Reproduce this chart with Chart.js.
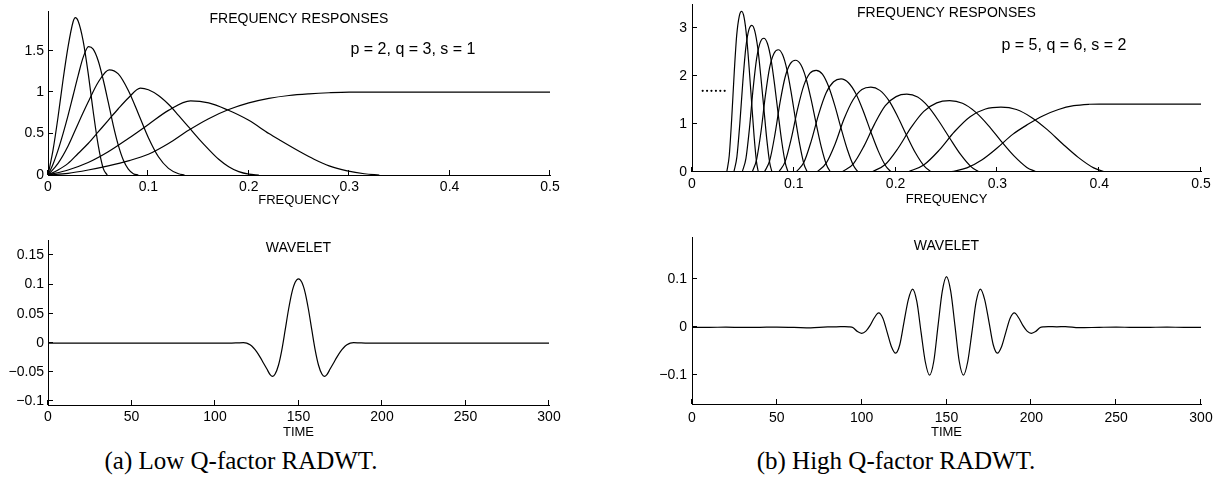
<!DOCTYPE html>
<html><head><meta charset="utf-8">
<script src="https://cdn.jsdelivr.net/npm/chart.js@4.4.1/dist/chart.umd.min.js"></script>
<style>
html,body{margin:0;padding:0;background:#fff;width:1220px;height:481px;overflow:hidden;}
.box{position:absolute;}
.box canvas{display:block;}
.cap{position:absolute;font-family:"Liberation Serif","Times New Roman",serif;font-size:25px;line-height:25px;white-space:nowrap;transform:translateX(-50%);color:#000;}
</style></head><body>
<div class="box" style="left:0px;top:0px;width:575px;height:215px"><canvas id="cA1" width="575" height="215"></canvas></div>
<div class="box" style="left:0px;top:225px;width:575px;height:215px"><canvas id="cA2" width="575" height="215"></canvas></div>
<div class="box" style="left:640px;top:0px;width:580px;height:215px"><canvas id="cB1" width="580" height="215"></canvas></div>
<div class="box" style="left:640px;top:225px;width:580px;height:215px"><canvas id="cB2" width="580" height="215"></canvas></div>
<div class="cap" style="left:241px;top:448px">(a) Low Q-factor RADWT.</div>
<div class="cap" style="left:896px;top:448px">(b) High Q-factor RADWT.</div>
<script>
// ---------- tick values / labels ----------
const freqTicks = [0, 0.1, 0.2, 0.3, 0.4, 0.5];
const freqLabels = ['0', '0.1', '0.2', '0.3', '0.4', '0.5'];
const timeTicks = [0, 50, 100, 150, 200, 250, 300];
const timeLabels = ['0', '50', '100', '150', '200', '250', '300'];
const lowQRespTicks = [0, 0.5, 1, 1.5];
const lowQRespLabels = ['0', '0.5', '1', '1.5'];
const lowQWavTicks = [-0.1, -0.05, 0, 0.05, 0.1, 0.15];
const lowQWavLabels = ['\u22120.1', '\u22120.05', '0', '0.05', '0.1', '0.15'];
const highQRespTicks = [0, 1, 2, 3];
const highQRespLabels = ['0', '1', '2', '3'];
const highQWavTicks = [-0.1, 0, 0.1];
const highQWavLabels = ['\u22120.1', '0', '0.1'];

// ---------- (a) low Q-factor frequency responses (p=2, q=3, s=1) ----------
const lowQ_b1_f = [0, 0.005, 0.01, 0.015, 0.02, 0.025, 0.0272, 0.03, 0.035, 0.04, 0.045, 0.05, 0.055, 0.059];
const lowQ_b1_h = [0, 0.30, 0.70, 1.15, 1.55, 1.85, 1.90, 1.86, 1.62, 1.23, 0.77, 0.36, 0.08, 0];
const lowQ_b2_f = [0, 0.005, 0.01, 0.015, 0.02, 0.025, 0.03, 0.035, 0.0404, 0.045, 0.05, 0.055, 0.06, 0.065, 0.07, 0.075, 0.08, 0.085, 0.09];
const lowQ_b2_h = [0, 0.13, 0.30, 0.50, 0.72, 0.96, 1.20, 1.42, 1.55, 1.52, 1.38, 1.15, 0.88, 0.60, 0.36, 0.18, 0.07, 0.015, 0];
const lowQ_b3_f = [0, 0.01, 0.02, 0.03, 0.04, 0.05, 0.061, 0.07, 0.08, 0.09, 0.10, 0.11, 0.12, 0.13, 0.136];
const lowQ_b3_h = [0, 0.14, 0.35, 0.62, 0.88, 1.12, 1.27, 1.22, 1.02, 0.74, 0.45, 0.22, 0.08, 0.015, 0];
const lowQ_b4_f = [0, 0.01, 0.02, 0.03, 0.04, 0.05, 0.06, 0.07, 0.08, 0.092, 0.10, 0.11, 0.122, 0.13, 0.14, 0.15, 0.16, 0.17, 0.18, 0.19, 0.20, 0.21];
const lowQ_b4_h = [0, 0.06, 0.14, 0.26, 0.38, 0.52, 0.66, 0.80, 0.93, 1.05, 1.03, 0.96, 0.83, 0.72, 0.58, 0.44, 0.31, 0.19, 0.10, 0.04, 0.01, 0];
const lowQ_b5_f = [0, 0.02, 0.04, 0.06, 0.08, 0.10, 0.12, 0.142, 0.16, 0.178, 0.20, 0.22, 0.231, 0.251, 0.265, 0.28, 0.298, 0.315, 0.33];
const lowQ_b5_h = [0, 0.06, 0.15, 0.28, 0.44, 0.61, 0.78, 0.895, 0.87, 0.79, 0.66, 0.50, 0.42, 0.28, 0.19, 0.11, 0.05, 0.015, 0];
const lowQ_hp_f = [0, 0.02, 0.04, 0.06, 0.08, 0.10, 0.12, 0.14, 0.16, 0.18, 0.20, 0.22, 0.24, 0.26, 0.28, 0.30, 0.32, 0.5];
const lowQ_hp_h = [0, 0.02, 0.06, 0.11, 0.17, 0.25, 0.38, 0.54, 0.68, 0.79, 0.87, 0.925, 0.96, 0.98, 0.993, 1.0, 1.0, 1.0];

// ---------- (a) low Q-factor wavelet ----------
const lowQ_wav_t = [0, 50, 100, 110, 114, 117, 119, 121, 123, 125, 127, 129, 131, 133, 134.5, 136, 138, 140, 142, 144, 146, 148, 150, 152, 154, 156, 158, 160, 162, 164, 165.5, 167, 169, 171, 173, 175, 177, 179, 181, 183, 186, 190, 200, 250, 300];
const lowQ_wav_v = [0, 0, 0, 0, 0.0004, 0.0006, 0, -0.003, -0.008, -0.015, -0.024, -0.034, -0.044, -0.054, -0.057, -0.053, -0.038, -0.012, 0.022, 0.057, 0.086, 0.104, 0.110, 0.104, 0.086, 0.057, 0.022, -0.012, -0.038, -0.053, -0.057, -0.054, -0.044, -0.034, -0.024, -0.015, -0.008, -0.003, 0, 0.0006, 0.0004, 0, 0, 0, 0];

// ---------- (b) high Q-factor frequency responses (p=5, q=6, s=2) ----------
const highQ_b1_f = [0.0342, 0.0366, 0.0390, 0.0415, 0.0439, 0.0464, 0.0488, 0.0512, 0.0537, 0.0561, 0.0586, 0.0610, 0.0634, 0.0651];
const highQ_b1_h = [0, 0.34, 1.11, 2.08, 2.85, 3.25, 3.35, 3.22, 2.81, 2.18, 1.44, 0.74, 0.20, 0];
const highQ_b2_f = [0.0412, 0.0441, 0.0470, 0.0500, 0.0529, 0.0559, 0.0588, 0.0617, 0.0647, 0.0676, 0.0706, 0.0735, 0.0764, 0.0785];
const highQ_b2_h = [0, 0.31, 1.01, 1.90, 2.60, 2.97, 3.06, 2.94, 2.57, 1.99, 1.32, 0.67, 0.18, 0];
const highQ_b3_f = [0.0494, 0.0530, 0.0565, 0.0600, 0.0635, 0.0671, 0.0706, 0.0741, 0.0777, 0.0812, 0.0847, 0.0883, 0.0918, 0.0943];
const highQ_b3_h = [0, 0.28, 0.92, 1.73, 2.37, 2.71, 2.79, 2.68, 2.34, 1.81, 1.20, 0.61, 0.17, 0];
const highQ_b4_f = [0.0593, 0.0635, 0.0678, 0.0720, 0.0762, 0.0805, 0.0847, 0.0889, 0.0932, 0.0974, 0.1016, 0.1059, 0.1101, 0.1131];
const highQ_b4_h = [0, 0.26, 0.84, 1.58, 2.17, 2.47, 2.55, 2.45, 2.14, 1.66, 1.10, 0.56, 0.15, 0];
const highQ_b5_f = [0.0712, 0.0763, 0.0814, 0.0864, 0.0915, 0.0966, 0.1017, 0.1068, 0.1119, 0.1170, 0.1220, 0.1271, 0.1322, 0.1358];
const highQ_b5_h = [0, 0.23, 0.77, 1.44, 1.98, 2.26, 2.33, 2.24, 1.96, 1.51, 1.00, 0.51, 0.14, 0];
const highQ_b6_f = [0.0854, 0.0915, 0.0976, 0.1037, 0.1098, 0.1159, 0.1220, 0.1281, 0.1342, 0.1403, 0.1464, 0.1525, 0.1586, 0.1629];
const highQ_b6_h = [0, 0.21, 0.70, 1.31, 1.80, 2.06, 2.12, 2.04, 1.78, 1.38, 0.91, 0.47, 0.13, 0];
const highQ_b7_f = [0.1025, 0.1098, 0.1171, 0.1244, 0.1318, 0.1391, 0.1464, 0.1537, 0.1610, 0.1684, 0.1757, 0.1830, 0.1903, 0.1954];
const highQ_b7_h = [0, 0.19, 0.64, 1.20, 1.65, 1.88, 1.94, 1.86, 1.63, 1.26, 0.83, 0.43, 0.12, 0];
const highQ_b8_f = [0.1230, 0.1318, 0.1406, 0.1493, 0.1581, 0.1669, 0.1757, 0.1845, 0.1933, 0.2021, 0.2108, 0.2196, 0.2284, 0.2346];
const highQ_b8_h = [0, 0.18, 0.58, 1.10, 1.50, 1.72, 1.77, 1.70, 1.49, 1.15, 0.76, 0.39, 0.11, 0];
const highQ_b9_f = [0.1477, 0.1583, 0.1688, 0.1794, 0.1899, 0.2005, 0.2110, 0.2216, 0.2321, 0.2427, 0.2532, 0.2638, 0.2743, 0.2817];
const highQ_b9_h = [0, 0.16, 0.53, 1.00, 1.38, 1.57, 1.62, 1.56, 1.36, 1.05, 0.70, 0.36, 0.10, 0];
const highQ_b10_f = [0.1771, 0.1898, 0.2024, 0.2151, 0.2277, 0.2404, 0.2530, 0.2657, 0.2783, 0.2910, 0.3036, 0.3163, 0.3289, 0.3378];
const highQ_b10_h = [0, 0.15, 0.49, 0.92, 1.26, 1.44, 1.485, 1.43, 1.25, 0.97, 0.64, 0.33, 0.09, 0];
const highQ_b11_f = [0.2125, 0.2276, 0.2428, 0.2580, 0.2732, 0.2883, 0.3035, 0.3187, 0.3339, 0.3490, 0.3642, 0.3794, 0.3946, 0.4052];
const highQ_b11_h = [0, 0.14, 0.45, 0.84, 1.15, 1.31, 1.35, 1.30, 1.13, 0.88, 0.58, 0.30, 0.08, 0];
const highQ_hp_f = [0.255, 0.27, 0.285, 0.30, 0.315, 0.33, 0.345, 0.36, 0.375, 0.39, 0.40, 0.5];
const highQ_hp_h = [0, 0.08, 0.25, 0.50, 0.78, 0.99, 1.17, 1.30, 1.38, 1.41, 1.414, 1.414];
const highQ_dots_f = [0.0105, 0.0148, 0.0191, 0.0235, 0.0278, 0.0321];
const highQ_dots_h = [1.69, 1.69, 1.69, 1.69, 1.69, 1.69];

// ---------- (b) high Q-factor wavelet ----------
const highQ_wav_t = [0, 10, 20, 30, 40, 50, 60, 70, 80, 85, 90, 92.5, 95, 97.5, 100, 102.5, 105, 107.5, 110, 112.5, 115, 117.5, 120, 122.5, 125, 127.5, 130, 132.5, 135, 137.5, 140, 142.5, 145, 147.5, 150, 152.5, 155, 157.5, 160, 162.5, 165, 167.5, 170, 172.5, 175, 177.5, 180, 182.5, 185, 187.5, 190, 192.5, 195, 197.5, 200, 202.5, 205, 207.5, 210, 215, 220, 228, 240, 250, 260, 270, 280, 290, 300];
const highQ_wav_v = [0, 0, 0.0003, -0.0003, 0, 0.0005, 0, -0.001, 0.001, 0.001, 0.0015, 0.001, -0.001, -0.009, -0.0126, -0.008, 0.004, 0.020, 0.030, 0.019, -0.010, -0.040, -0.054, -0.036, 0.012, 0.058, 0.080, 0.054, -0.010, -0.072, -0.100, -0.071, 0.003, 0.075, 0.106, 0.075, 0.003, -0.071, -0.100, -0.072, -0.010, 0.054, 0.080, 0.058, 0.012, -0.036, -0.054, -0.040, -0.010, 0.019, 0.030, 0.020, 0.004, -0.008, -0.0126, -0.009, -0.001, 0.001, 0.0015, 0.001, 0.0015, -0.0008, 0, 0.0005, -0.0003, 0, 0.0003, 0, 0];

// ---------- helpers ----------
Chart.defaults.font.family = '"Liberation Sans", Arial, Helvetica, sans-serif';
Chart.defaults.color = '#000';

const pts = (xs, ys) => xs.map((x, i) => ({x: x, y: ys[i]}));
const lineDs = (xs, ys) => ({
  data: pts(xs, ys), borderColor: '#000', borderWidth: 1.2, pointRadius: 0,
  fill: false, cubicInterpolationMode: 'monotone'
});

const textPlugin = {
  id: 'texts',
  afterDraw(chart, args, opts) {
    const ctx = chart.ctx, xs = chart.scales.x, ys = chart.scales.y;
    (opts.items || []).forEach(t => {
      ctx.save();
      ctx.font = t.size + 'px "Liberation Sans", Arial, sans-serif';
      ctx.fillStyle = '#000';
      ctx.textAlign = 'center';
      ctx.textBaseline = 'middle';
      ctx.fillText(t.text, xs.getPixelForValue(t.x), ys.getPixelForValue(t.y));
      ctx.restore();
    });
  }
};

const inTickPlugin = {
  id: 'inTicks',
  afterDraw(chart, args, opts) {
    const ctx = chart.ctx, a = chart.chartArea, xs = chart.scales.x, ys = chart.scales.y;
    const len = opts.len || 5;
    ctx.save();
    ctx.strokeStyle = '#000';
    ctx.lineWidth = 1;
    ctx.beginPath();
    xs.ticks.forEach(t => {
      const px = Math.round(xs.getPixelForValue(t.value)) - 0.5;
      ctx.moveTo(px, Math.round(a.bottom)); ctx.lineTo(px, Math.round(a.bottom) - len);
    });
    ys.ticks.forEach(t => {
      const py = Math.round(ys.getPixelForValue(t.value)) - 0.5;
      ctx.moveTo(Math.round(a.left), py); ctx.lineTo(Math.round(a.left) + len, py);
    });
    ctx.stroke();
    ctx.restore();
  }
};

function makeChart(id, cfg) {
  return new Chart(document.getElementById(id), {
    type: 'line',
    data: { datasets: cfg.datasets },
    options: {
      responsive: false, animation: false, events: [],
      layout: { padding: cfg.pad },
      plugins: {
        legend: { display: false }, tooltip: { enabled: false },
        texts: { items: cfg.texts }, inTicks: { len: 5 }
      },
      scales: {
        x: {
          type: 'linear', min: cfg.xMin, max: cfg.xMax,
          afterBuildTicks: s => { s.ticks = cfg.xTicks.map(v => ({value: v})); },
          afterFit: s => { s.height = cfg.xH; s.paddingLeft = 0; s.paddingRight = 0; },
          grid: { display: true, drawOnChartArea: false, drawTicks: false },
          border: { display: true, color: '#000', width: 1 },
          ticks: { padding: cfg.xPad, maxRotation: 0, autoSkip: false, font: { size: 14 }, color: '#000',
                   callback: (v, i) => cfg.xLabels[i] },
          title: { display: true, text: cfg.xTitle, font: { size: 13 }, color: '#000',
                   padding: { top: 0, bottom: cfg.xTitlePad } }
        },
        y: {
          type: 'linear', min: cfg.yMin, max: cfg.yMax,
          afterBuildTicks: s => { s.ticks = cfg.yTicks.map(v => ({value: v})); },
          afterFit: s => { s.width = cfg.yW; s.paddingTop = 0; s.paddingBottom = 0; },
          grid: { display: true, drawOnChartArea: false, drawTicks: false },
          border: { display: true, color: '#000', width: 1 },
          ticks: { padding: cfg.yPad, autoSkip: false, font: { size: 14 }, color: '#000',
                   callback: (v, i) => cfg.yLabels[i] }
        }
      }
    },
    plugins: [textPlugin, inTickPlugin]
  });
}

// (a) top: frequency responses
makeChart('cA1', {
  datasets: [
    lineDs(lowQ_b1_f, lowQ_b1_h), lineDs(lowQ_b2_f, lowQ_b2_h), lineDs(lowQ_b3_f, lowQ_b3_h),
    lineDs(lowQ_b4_f, lowQ_b4_h), lineDs(lowQ_b5_f, lowQ_b5_h), lineDs(lowQ_hp_f, lowQ_hp_h)
  ],
  pad: { left: 0, right: 25, top: 11, bottom: 0 },
  xMin: 0, xMax: 0.5, yMin: 0, yMax: 1.98,
  xTicks: freqTicks, xLabels: freqLabels, yTicks: lowQRespTicks, yLabels: lowQRespLabels,
  xH: 40, yW: 48, xPad: 4, yPad: 4, xTitle: 'FREQUENCY', xTitlePad: 7,
  texts: [
    { text: 'FREQUENCY RESPONSES', x: 0.25, y: 1.887, size: 14 },
    { text: 'p = 2, q = 3, s = 1', x: 0.3635, y: 1.51, size: 16 }
  ]
});

// (a) bottom: wavelet
makeChart('cA2', {
  datasets: [ lineDs(lowQ_wav_t, lowQ_wav_v) ],
  pad: { left: 0, right: 26, top: 15, bottom: 0 },
  xMin: 0, xMax: 300, yMin: -0.106, yMax: 0.1764,
  xTicks: timeTicks, xLabels: timeLabels, yTicks: lowQWavTicks, yLabels: lowQWavLabels,
  xH: 35, yW: 48, xPad: 3.5, yPad: 4, xTitle: 'TIME', xTitlePad: 0,
  texts: [ { text: 'WAVELET', x: 150, y: 0.162, size: 14 } ]
});

// (b) top: frequency responses
const dotsDs = {
  data: pts(highQ_dots_f, highQ_dots_h), showLine: false, borderColor: '#000',
  backgroundColor: '#000', pointRadius: 1.1, pointBorderWidth: 0
};
makeChart('cB1', {
  datasets: [
    lineDs(highQ_b1_f, highQ_b1_h), lineDs(highQ_b2_f, highQ_b2_h), lineDs(highQ_b3_f, highQ_b3_h),
    lineDs(highQ_b4_f, highQ_b4_h), lineDs(highQ_b5_f, highQ_b5_h), lineDs(highQ_b6_f, highQ_b6_h),
    lineDs(highQ_b7_f, highQ_b7_h), lineDs(highQ_b8_f, highQ_b8_h), lineDs(highQ_b9_f, highQ_b9_h),
    lineDs(highQ_b10_f, highQ_b10_h), lineDs(highQ_b11_f, highQ_b11_h), lineDs(highQ_hp_f, highQ_hp_h),
    dotsDs
  ],
  pad: { left: 0, right: 19, top: 4.3, bottom: 0 },
  xMin: 0, xMax: 0.5, yMin: 0, yMax: 3.5,
  xTicks: freqTicks, xLabels: freqLabels, yTicks: highQRespTicks, yLabels: highQRespLabels,
  xH: 43.3, yW: 52, xPad: 4.5, yPad: 5, xTitle: 'FREQUENCY', xTitlePad: 8,
  texts: [
    { text: 'FREQUENCY RESPONSES', x: 0.25, y: 3.31, size: 14 },
    { text: 'p = 5, q = 6, s = 2', x: 0.3654, y: 2.64, size: 16 }
  ]
});

// (b) bottom: wavelet
makeChart('cB2', {
  datasets: [ lineDs(highQ_wav_t, highQ_wav_v) ],
  pad: { left: 0, right: 19, top: 12.7, bottom: 0 },
  xMin: 0, xMax: 300, yMin: -0.161, yMax: 0.1874,
  xTicks: timeTicks, xLabels: timeLabels, yTicks: highQWavTicks, yLabels: highQWavLabels,
  xH: 35.7, yW: 52, xPad: 5, yPad: 5, xTitle: 'TIME', xTitlePad: 0,
  texts: [ { text: 'WAVELET', x: 150, y: 0.170, size: 14 } ]
});
</script>
</body></html>
